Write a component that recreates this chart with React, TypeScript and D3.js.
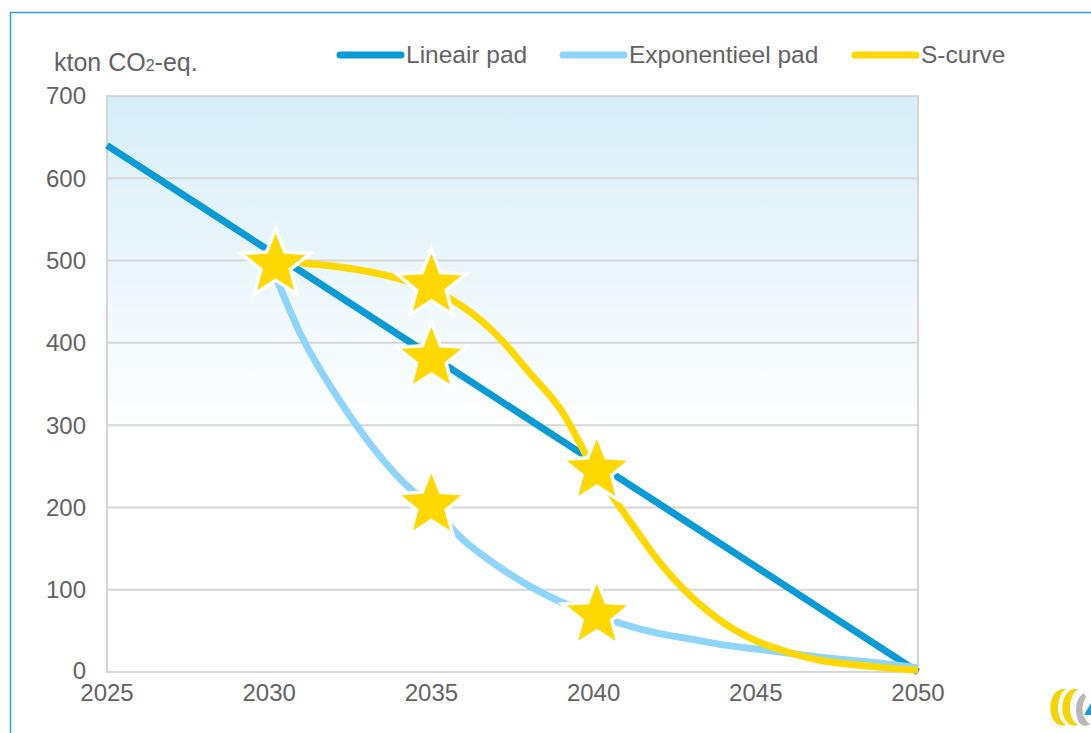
import React from "react";
import * as d3 from "d3";

const years = [2030, 2031, 2032, 2033, 2034, 2035, 2036, 2037, 2038, 2039, 2040, 2041, 2042, 2043, 2044, 2045, 2046, 2047, 2048, 2049, 2050];
const linearYears = [2025, 2030, 2035, 2040, 2045, 2050];
const linearValues = [640, 512, 384, 256, 128, 0];
const expValues = [500, 408, 340, 283, 236, 200, 160, 130, 105, 85, 70, 57, 47, 40, 33, 28, 23, 18, 14, 10, 5];
const sValues = [500, 497, 493, 487, 478, 465, 443, 410, 365, 318, 248, 190, 135, 92, 60, 38, 24, 14, 9, 5, 2];
const starYears = [2030.2, 2035, 2035, 2035, 2040.1, 2040.1];
const starValues = [495, 470, 381, 203, 245, 69];
const xTicks = [2025, 2030, 2035, 2040, 2045, 2050];
const yTicks = [0, 100, 200, 300, 400, 500, 600, 700];
const seriesNames = ["Lineair pad", "Exponentieel pad", "S-curve"];
const seriesColors = ["#0a9bd6", "#8fd4fb", "#ffd800"];

const W = 1091, H = 733;
const L = 107, R = 918, T = 96, B = 672;

export default function App() {
  const x = d3.scaleLinear().domain([2025, 2050]).range([L, R]);
  const y = d3.scaleLinear().domain([0, 700]).range([B, T]);
  const line = d3.line<[number, number]>().x(d => x(d[0])).y(d => y(d[1])).curve(d3.curveMonotoneX);
  const linPts = linearYears.map((yr, i) => [yr, linearValues[i]] as [number, number]);
  const expPts = years.map((yr, i) => [yr, expValues[i]] as [number, number]);
  const sPts = years.map((yr, i) => [yr, sValues[i]] as [number, number]);
  const starPts = d3.range(10).map(k => [k * Math.PI / 5, k % 2 === 0 ? 31.5 : 13.5] as [number, number]);
  const star = d3.lineRadial<[number, number]>().angle(d => d[0]).radius(d => d[1]).curve(d3.curveLinearClosed)(starPts) as string;
  const font = "'Liberation Sans', Arial, sans-serif";
  const textColor = "#636363";
  const legendX = [337, 560, 852];

  return (
    <svg width={W} height={H} style={{ position: "absolute", left: 0, top: 0 }} fontFamily={font}>
      <defs>
        <linearGradient id="bg" x1="0" y1="0" x2="0" y2="1">
          <stop offset="0" stopColor="#d7eef8" />
          <stop offset="0.6" stopColor="#ffffff" />
          <stop offset="1" stopColor="#ffffff" />
        </linearGradient>
      </defs>
      <rect x={0} y={0} width={W} height={H} fill="#fff" />
      <path d={`M10.5,${H + 5} L10.5,12.5 L${W + 5},12.5`} fill="none" stroke="#2aa3dc" strokeWidth={1.5} />
      <rect x={L} y={T} width={R - L} height={B - T} fill="url(#bg)" />
      {yTicks.filter(v => v > 0 && v < 700).map(v => (
        <line key={v} x1={L} x2={R} y1={y(v)} y2={y(v)} stroke="#d6d6d6" strokeWidth={2} />
      ))}
      <rect x={L} y={T} width={R - L} height={B - T} fill="none" stroke="#d6d6d6" strokeWidth={2} />
      {yTicks.map(v => (
        <text key={v} x={86} y={y(v) - (v === 0 ? 1 : 0)} dy="0.35em" textAnchor="end" fontSize={24} fill={textColor}>{v}</text>
      ))}
      {xTicks.map(v => (
        <text key={v} x={x(v)} y={693} dy="0.35em" textAnchor="middle" fontSize={24} fill={textColor}>{v}</text>
      ))}
      <text x={54} y={71} fontSize={25} fill={textColor}>kton CO<tspan fontSize={16}>2</tspan>-eq.</text>
      {seriesNames.map((n, i) => (
        <g key={n}>
          <line x1={legendX[i] + 3} x2={legendX[i] + 64} y1={55} y2={55} stroke={seriesColors[i]} strokeWidth={7} strokeLinecap="round" />
          <text x={legendX[i] + 69} y={54} dy="0.35em" fontSize={24.5} fill={textColor}>{n}</text>
        </g>
      ))}
      <path d={line(linPts) as string} fill="none" stroke={seriesColors[0]} strokeWidth={7} />
      <path d={line(expPts) as string} fill="none" stroke={seriesColors[1]} strokeWidth={7} />
      <path d={line(sPts) as string} fill="none" stroke={seriesColors[2]} strokeWidth={7} />
      {starYears.map((yr, i) => (
        <path key={i} d={star} transform={`translate(${x(yr)},${y(starValues[i])})`} fill="#ffd800" stroke="#ffffff" strokeWidth={7} strokeLinejoin="miter" style={{ paintOrder: "stroke" }} />
      ))}
      <g transform="translate(1048,687)">
        <path d="M14,2 C4,4 0,18 4,30 C7,38 14,40 18,38 C10,34 8,20 12,10 C13,7 15,4 18,2 Z" fill="#f5d40a" />
        <path d="M26,2 C16,4 12,18 16,30 C19,38 26,40 30,38 C22,34 20,20 24,10 C25,7 27,4 30,2 Z" fill="#f5d40a" />
        <path d="M36,6 C28,10 26,24 30,34 C33,39 38,40 42,37 C34,32 32,20 38,10 Z" fill="#b8b8b8" />
        <path d="M43,28 L43,16 L36,28 Z" fill="#1a9ad6" />
      </g>
    </svg>
  );
}
